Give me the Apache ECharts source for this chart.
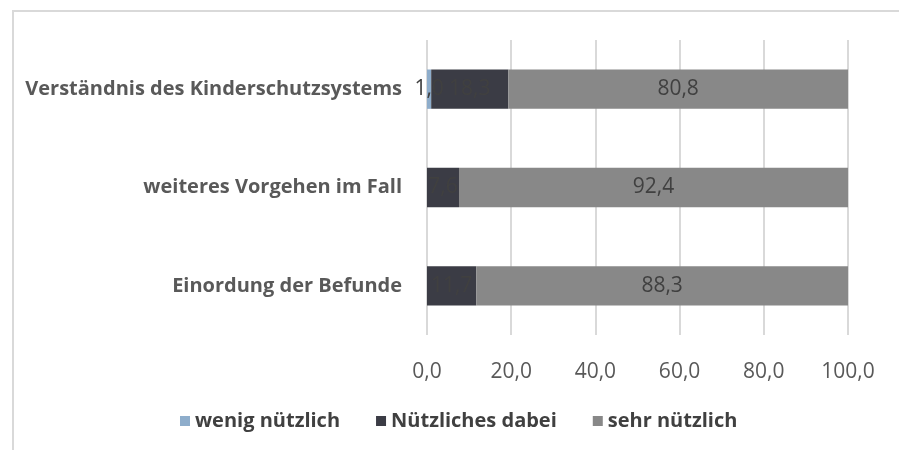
<!DOCTYPE html>
<html>
<head>
<meta charset="utf-8">
<script src="https://cdn.jsdelivr.net/npm/echarts@6/dist/echarts.min.js"></script>
<style>
  html, body { margin: 0; padding: 0; background: #fff; }
  #frame {
    position: absolute; left: 12px; top: 10px; right: 0; bottom: 0;
    border-top: 2px solid #d9d9d9; border-left: 2px solid #d9d9d9;
  }
  #chart { position: absolute; left: 0; top: 0; width: 899px; height: 450px; }
</style>
</head>
<body>
<div id="frame"></div>
<div id="chart"></div>
<script>
// categories from bottom to top (category axis runs upwards)
var categories = ['Einordung der Befunde', 'weiteres Vorgehen im Fall', 'Verständnis des Kinderschutzsystems']
var wenigNuetzlich = [null, null, 1.0]
var nuetzlichesDabei = [11.7, 7.6, 18.3]
var sehrNuetzlich = [88.3, 92.4, 80.8]
var seriesNames = ['wenig nützlich', 'Nützliches dabei', 'sehr nützlich']
var colors = ['#8eadcb', '#3b3c45', '#888888']

var fontFamily = '"Open Sans", sans-serif'

function fmt(v) {
  return v.toFixed(1).replace('.', ',')
}

function makeSeries(name, data, color) {
  return {
    name: name,
    type: 'bar',
    stack: 'total',
    data: data,
    barCategoryGap: '60%',
    itemStyle: { color: color },
    label: {
      show: true,
      position: 'inside',
      color: '#404040',
      fontFamily: fontFamily,
      fontSize: 21,
      formatter: function (p) { return p.value == null ? '' : fmt(p.value) }
    }
  }
}

var chart = echarts.init(document.getElementById('chart'))
chart.setOption({
  animation: false,
  color: colors,
  grid: { left: 427, right: 51, top: 40, bottom: 115, containLabel: false },
  legend: {
    left: 175,
    top: 406,
    icon: 'rect',
    itemWidth: 10,
    itemHeight: 10,
    itemGap: 36,
    data: seriesNames,
    textStyle: { color: '#404040', fontFamily: fontFamily, fontWeight: 'bold', fontSize: 20 }
  },
  xAxis: {
    type: 'value',
    min: 0,
    max: 100,
    interval: 20,
    axisLine: { show: false },
    axisTick: { show: false },
    splitLine: { lineStyle: { color: '#d9d9d9', width: 2 } },
    axisLabel: {
      color: '#595959',
      fontFamily: fontFamily,
      fontSize: 21,
      margin: 27,
      formatter: function (v) { return fmt(v) }
    }
  },
  yAxis: {
    type: 'category',
    data: categories,
    axisLine: { show: false },
    axisTick: { show: false },
    axisLabel: {
      color: '#595959',
      fontFamily: fontFamily,
      fontWeight: 'bold',
      fontSize: 20,
      margin: 25
    }
  },
  series: [
    makeSeries(seriesNames[0], wenigNuetzlich, colors[0]),
    makeSeries(seriesNames[1], nuetzlichesDabei, colors[1]),
    makeSeries(seriesNames[2], sehrNuetzlich, colors[2])
  ]
})
</script>
</body>
</html>
